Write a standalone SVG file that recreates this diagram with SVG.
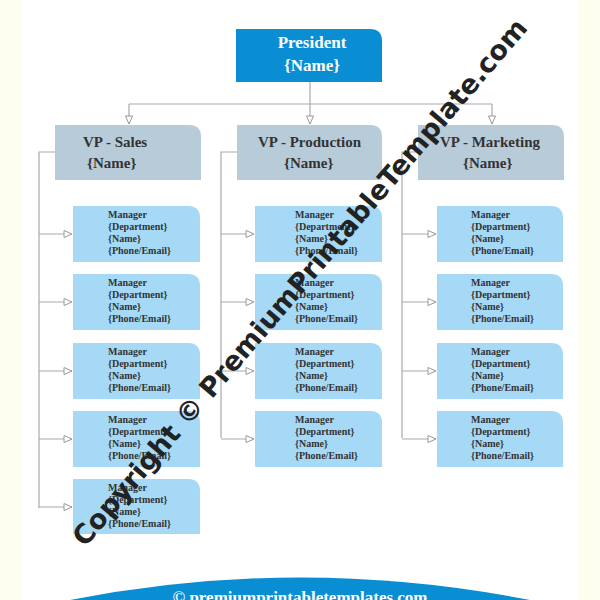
<svg xmlns="http://www.w3.org/2000/svg" width="600" height="600" viewBox="0 0 600 600">
<style>
.pres{fill:#0a8ed3}.vp{fill:#b8cbd9}.mgr{fill:#a5d9f6}
.t{font-family:"Liberation Serif",serif;font-weight:bold;fill:#333}
.pt{font-family:"Liberation Serif",serif;font-weight:bold;fill:#fff;font-size:17px}
.vt{font-size:15px}.mt{font-size:10px}
.c{fill:none;stroke:#aaa;stroke-width:1.2}
</style>
<defs><marker id="a" markerWidth="10" markerHeight="8" refX="9" refY="4" orient="auto" markerUnits="userSpaceOnUse"><path d="M1,0.5 L9,4 L1,7.5 Z" fill="#fff" stroke="#999"/></marker>
<g id="m"><text class="t mt"><tspan x="0" y="0">Manager</tspan><tspan x="0" y="12">{Department}</tspan><tspan x="0" y="24">{Name}</tspan><tspan x="0" y="36">{Phone/Email}</tspan></text></g></defs>
<rect width="600" height="600" fill="#fefeee"/>
<rect x="22" y="0" width="556" height="600" fill="#fff"/>
<g id="connectors">
<path class="c" d="M310,82 V104 M129,104 H492"/>
<path class="c" d="M129,104 V124" marker-end="url(#a)"/>
<path class="c" d="M310,104 V124" marker-end="url(#a)"/>
<path class="c" d="M492,104 V124" marker-end="url(#a)"/>
<path class="c" d="M55,152 H39 V508 M237,152 H221 V438 M418,152 H402 V438"/>
<g marker-end="url(#a)">
<path class="c" d="M39,234 H72"/><path class="c" d="M39,302 H72"/><path class="c" d="M39,371 H72"/><path class="c" d="M39,439 H72"/><path class="c" d="M39,507 H72"/>
<path class="c" d="M221,234 H254"/><path class="c" d="M221,302 H254"/><path class="c" d="M221,371 H254"/><path class="c" d="M221,439 H254"/>
<path class="c" d="M402,234 H436"/><path class="c" d="M402,302 H436"/><path class="c" d="M402,371 H436"/><path class="c" d="M402,439 H436"/>
</g>
</g>
<g id="president"><path class="pres" d="M236,29 H370 Q382,29 382,41 V82 H236 Z"/>
<text class="pt" x="312" y="48" text-anchor="middle">President</text><text class="pt" x="312" y="71" text-anchor="middle">{Name}</text></g>
<g id="vp-sales"><path class="vp" d="M55,125 H189 Q201,125 201,137 V180 H55 Z"/>
<text class="t vt" x="83" y="147">VP - Sales</text><text class="t vt" x="87" y="168">{Name}</text></g>
<g id="vp-production"><path class="vp" d="M237,125 H370 Q382,125 382,137 V180 H237 Z"/>
<text class="t vt" x="258" y="147">VP - Production</text><text class="t vt" x="284" y="168">{Name}</text></g>
<g id="vp-marketing"><path class="vp" d="M418,125 H552 Q564,125 564,137 V180 H418 Z"/>
<text class="t vt" x="440" y="147">VP - Marketing</text><text class="t vt" x="463" y="168">{Name}</text></g>
<g id="m-s1"><path class="mgr" d="M73,206 H188 Q200,206 200,218 V262 H73 Z"/><use href="#m" x="108" y="218"/></g>
<g id="m-s2"><path class="mgr" d="M73,274 H188 Q200,274 200,286 V330 H73 Z"/><use href="#m" x="108" y="286"/></g>
<g id="m-s3"><path class="mgr" d="M73,343 H188 Q200,343 200,355 V399 H73 Z"/><use href="#m" x="108" y="355"/></g>
<g id="m-s4"><path class="mgr" d="M73,411 H188 Q200,411 200,423 V467 H73 Z"/><use href="#m" x="108" y="423"/></g>
<g id="m-s5"><path class="mgr" d="M73,479 H188 Q200,479 200,491 V534 H73 Z"/><use href="#m" x="108" y="491"/></g>
<g id="m-p1"><path class="mgr" d="M255,206 H370 Q382,206 382,218 V262 H255 Z"/><use href="#m" x="295" y="218"/></g>
<g id="m-p2"><path class="mgr" d="M255,274 H370 Q382,274 382,286 V330 H255 Z"/><use href="#m" x="295" y="286"/></g>
<g id="m-p3"><path class="mgr" d="M255,343 H370 Q382,343 382,355 V399 H255 Z"/><use href="#m" x="295" y="355"/></g>
<g id="m-p4"><path class="mgr" d="M255,411 H370 Q382,411 382,423 V467 H255 Z"/><use href="#m" x="295" y="423"/></g>
<g id="m-m1"><path class="mgr" d="M437,206 H551 Q563,206 563,218 V262 H437 Z"/><use href="#m" x="471" y="218"/></g>
<g id="m-m2"><path class="mgr" d="M437,274 H551 Q563,274 563,286 V330 H437 Z"/><use href="#m" x="471" y="286"/></g>
<g id="m-m3"><path class="mgr" d="M437,343 H551 Q563,343 563,355 V399 H437 Z"/><use href="#m" x="471" y="355"/></g>
<g id="m-m4"><path class="mgr" d="M437,411 H551 Q563,411 563,423 V467 H437 Z"/><use href="#m" x="471" y="423"/></g>
<path d="M70,600 Q300,555 530,600 Z" fill="#0a8ed3"/>
<text x="300" y="603" text-anchor="middle" font-family="Liberation Serif,serif" font-weight="bold" font-size="17" fill="#fff">© premiumprintabletemplates.com</text>
<text transform="translate(85,548) rotate(-49.5)" font-family="DejaVu Sans,sans-serif" font-weight="bold" font-size="27" fill="#222">Copyright © PremiumPrintableTemplate.com</text>
</svg>
